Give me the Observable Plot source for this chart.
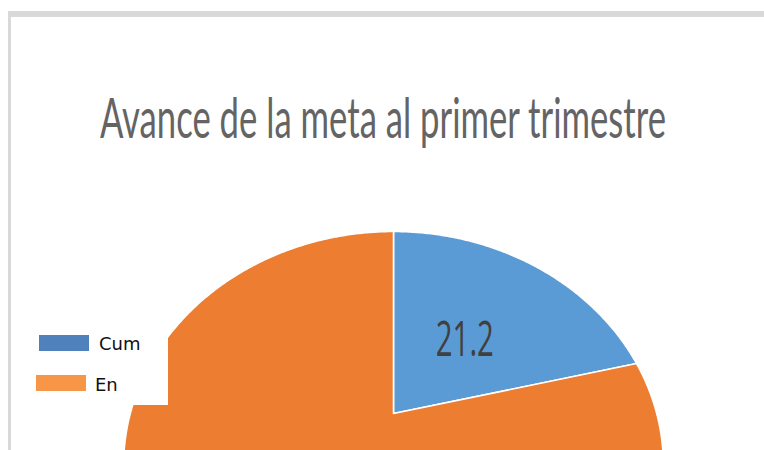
<!DOCTYPE html>
<html>
<head>
<meta charset="utf-8">
<script src="https://cdn.jsdelivr.net/npm/d3@7"></script>
<script src="https://cdn.jsdelivr.net/npm/@observablehq/plot@0.6"></script>
<style>
  html, body { margin: 0; padding: 0; width: 764px; height: 450px; overflow: hidden; background: #fff; }
  #frame { position: absolute; left: 8px; top: 11px; width: 753px; height: 433px;
           border-top: 6px solid #d9d9d9; border-left: 3px solid #d9d9d9; background: #fff; }
  #title { position: relative; height: 183px; }
  #titleText { position: absolute; left: 89px; top: 0px; white-space: nowrap;
               font-family: Lato, "Open Sans", sans-serif; font-weight: 400; font-size: 56px;
               color: #646464; transform-origin: 0 0; }
  #chart { position: relative; width: 753px; height: 250px; }
  #legend { position: absolute; left: 14px; top: 301px; width: 143px; height: 87px; background: #fff; }
  .sw { position: absolute; width: 50px; height: 16px; }
  .lt { position: absolute; font-family: "DejaVu Sans", sans-serif; font-size: 18px; color: #111; white-space: nowrap; }
</style>
</head>
<body>
<div id="frame">
  <div id="title"><span id="titleText"></span></div>
  <div id="chart"></div>
  <div id="legend"></div>
</div>
<script>
// ---- data ----
const titleText = "Avance de la meta al primer trimestre";
const categories = ["Cum", "En"];
const values = [21.2, 78.8];
const shownLabels = ["21.2", "78.8"];
const sliceColors = ["#5B9BD5", "#ED7D31"];
const legendColors = ["#4F81BD", "#F79646"];

// ---- title ----
const tEl = document.getElementById("titleText");
tEl.textContent = titleText;
const marker = document.createElement("span");
marker.style.cssText = "display:inline-block;width:0;height:0;vertical-align:baseline";
tEl.appendChild(marker);
const natW = tEl.offsetWidth;
tEl.style.transform = `scaleX(${566 / natW})`;
const baseNow = marker.getBoundingClientRect().top;
tEl.style.top = (138 - baseNow) + "px";

// ---- pie geometry (unit circle, perspective-projected like a tilted pie) ----
const P = {x0: 382, y0: 213, A: 263.2, B: 222.2, q: 0.221};
const proj = (u, v) => { const w = 1 - P.q * v; return [P.x0 + P.A * u / w, P.y0 + P.B * v / w]; };
const projection = d3.geoTransform({
  point(u, v) { const [x, y] = proj(u, v); this.stream.point(x, y); }
});

const arcs = d3.pie().sort(null).value(d => d)(values);
function ring(a0, a1) {
  const pts = [[0, 0]];
  const n = Math.max(2, Math.ceil((a1 - a0) / (Math.PI / 360)));
  for (let k = 0; k <= n; ++k) {
    const a = a0 + (a1 - a0) * k / n;
    pts.push([Math.sin(a), -Math.cos(a)]);
  }
  pts.push([0, 0]);
  return pts;
}
const slices = arcs.map((a, i) => ({
  type: "Feature",
  properties: {category: categories[i], value: values[i]},
  geometry: {type: "Polygon", coordinates: [ring(a.startAngle, a.endAngle)]}
}));
const H = 250;
const sliceLabels = arcs.map((a, i) => {
  const m = (a.startAngle + a.endAngle) / 2, r = 0.475;
  return {category: categories[i], text: shownLabels[i], u: r * Math.sin(m), v: -r * Math.cos(m)};
}).filter(d => proj(d.u, d.v)[1] < H - 20);

const chart = Plot.plot({
  width: 753,
  height: H,
  margin: 0,
  projection,
  color: {domain: categories, range: sliceColors},
  style: {background: "transparent", overflow: "hidden"},
  marks: [
    Plot.geo(slices, {fill: d => d.properties.category, stroke: "white", strokeWidth: 1.6, strokeLinejoin: "round"}),
    Plot.text(sliceLabels, {x: "u", y: "v", text: "text", fontSize: 49, fill: "#404040",
                            fontFamily: "'Open Sans', sans-serif", dy: 3})
  ]
});
d3.select(chart).selectAll('g[aria-label="text"] text')
  .attr("textLength", 58).attr("lengthAdjust", "spacingAndGlyphs");
document.getElementById("chart").appendChild(chart);

// ---- legend (cropped box that covers part of the pie) ----
const legend = d3.select("#legend");
const itemPos = [{sx: 14, sy: 17, tx: 74, base: 32}, {sx: 11, sy: 57, tx: 70, base: 73}];
categories.forEach((c, i) => {
  const p = itemPos[i];
  legend.append("div").attr("class", "sw")
    .style("left", p.sx + "px").style("top", p.sy + "px").style("background", legendColors[i]);
  legend.append("div").attr("class", "lt")
    .style("left", p.tx + "px").style("top", (p.base - 0.928 * 18) + "px").text(c);
});
</script>
</body>
</html>
